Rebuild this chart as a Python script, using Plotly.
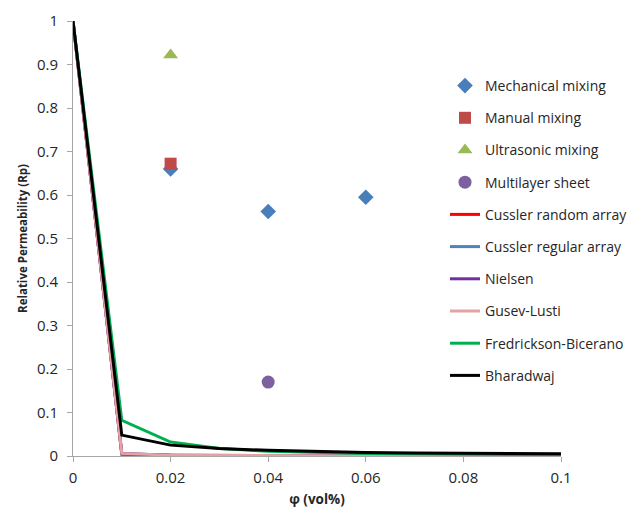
import plotly.graph_objects as go

# Experimental data
mech_x = [0.02, 0.04, 0.06]
mech_y = [0.66, 0.562, 0.595]
manual_x = [0.02]
manual_y = [0.672]
ultra_x = [0.02]
ultra_y = [0.922]
multi_x = [0.04]
multi_y = [0.17]

# Model curves
phi = [0, 0.01, 0.02, 0.03, 0.04, 0.05, 0.06, 0.07, 0.08, 0.09, 0.1]
cussler_random = [1, 0.004, 0.0015, 0.0008, 0.0005, 0.0003, 0.0002, 0.0002, 0.0001, 0.0001, 0.0001]
cussler_regular = [1, 0.005, 0.002, 0.001, 0.0006, 0.0004, 0.0003, 0.0002, 0.0002, 0.0001, 0.0001]
nielsen = [1, 0.006, 0.002, 0.001, 0.0007, 0.0005, 0.0004, 0.0003, 0.0003, 0.0002, 0.0002]
gusev = [1, 0.006, 0.002, 0.001, 0.0007, 0.0005, 0.0004, 0.0003, 0.0003, 0.0002, 0.0002]
fredrickson = [1, 0.082, 0.032, 0.017, 0.011, 0.008, 0.006, 0.005, 0.004, 0.003, 0.003]
bharadwaj = [1, 0.048, 0.025, 0.017, 0.013, 0.010, 0.008, 0.007, 0.006, 0.006, 0.005]

FONT = "Open Sans"
fig = go.Figure()

line_series = [
    ("Cussler random array", cussler_random, "#FF0000"),
    ("Cussler regular array", cussler_regular, "#4F81BD"),
    ("Nielsen", nielsen, "#7030A0"),
    ("Gusev-Lusti", gusev, "#E6A2A0"),
    ("Fredrickson-Bicerano", fredrickson, "#00B050"),
    ("Bharadwaj", bharadwaj, "#000000"),
]
for j, (name, ys, col) in enumerate(line_series):
    fig.add_trace(go.Scatter(x=phi, y=ys, mode="lines", name=name,
                             line=dict(color=col, width=3),
                             legendgroup=f"l{j}", legendrank=10 + j))

marker_series = [
    ("Mechanical mixing", mech_x, mech_y, "diamond", "#4A7EBB", 12),
    ("Manual mixing", manual_x, manual_y, "square", "#BE4B48", 12),
    ("Ultrasonic mixing", ultra_x, ultra_y, "triangle-up", "#98B954", 13),
    ("Multilayer sheet", multi_x, multi_y, "circle", "#7D60A0", 13),
]
for i, (name, xs, ys, sym, col, sz) in enumerate(marker_series):
    fig.add_trace(go.Scatter(x=xs, y=ys, mode="markers", name=name,
                             marker=dict(symbol=sym, color=col, size=sz, line=dict(width=0)),
                             legendgroup=f"g{i}", legendrank=i + 1))

axis_common = dict(showgrid=False, zeroline=False, showline=True, linecolor="#A6A6A6",
                   linewidth=1, ticks="outside", ticklen=5, tickcolor="#A6A6A6",
                   tickfont=dict(family=FONT, size=15, color="#262626"))

fig.update_layout(
    width=639, height=513,
    margin=dict(l=73, r=78, t=21, b=57, autoexpand=False),
    paper_bgcolor="white", plot_bgcolor="white",
    font=dict(family=FONT, size=14, color="#262626"),
    xaxis=dict(range=[0, 0.1], tickvals=[0, 0.02, 0.04, 0.06, 0.08, 0.1],
               ticktext=["0", "0.02", "0.04", "0.06", "0.08", "0.1"],
               ticklabelstandoff=3,
               title=dict(text="<b>φ (vol%)</b>", font=dict(family=FONT, size=13.5), standoff=8),
               **axis_common),
    yaxis=dict(range=[0, 1], tickvals=[i / 10 for i in range(11)],
               ticktext=["0", "0.1", "0.2", "0.3", "0.4", "0.5", "0.6", "0.7", "0.8", "0.9", "1"],
               ticklabelstandoff=6,
               title=dict(text="<b>Relative Permeability (Rp)</b>", font=dict(family=FONT, size=11.5), standoff=6),
               **axis_common),
    legend=dict(xref="container", yref="container", x=445 / 639, y=1 - 70 / 513,
                xanchor="left", yanchor="top", bgcolor="rgba(0,0,0,0)",
                font=dict(family=FONT, size=14, color="#262626"),
                tracegroupgap=11, itemwidth=30, traceorder="grouped", maxheight=1),
    showlegend=True,
)

fig.write_html("out.html")
